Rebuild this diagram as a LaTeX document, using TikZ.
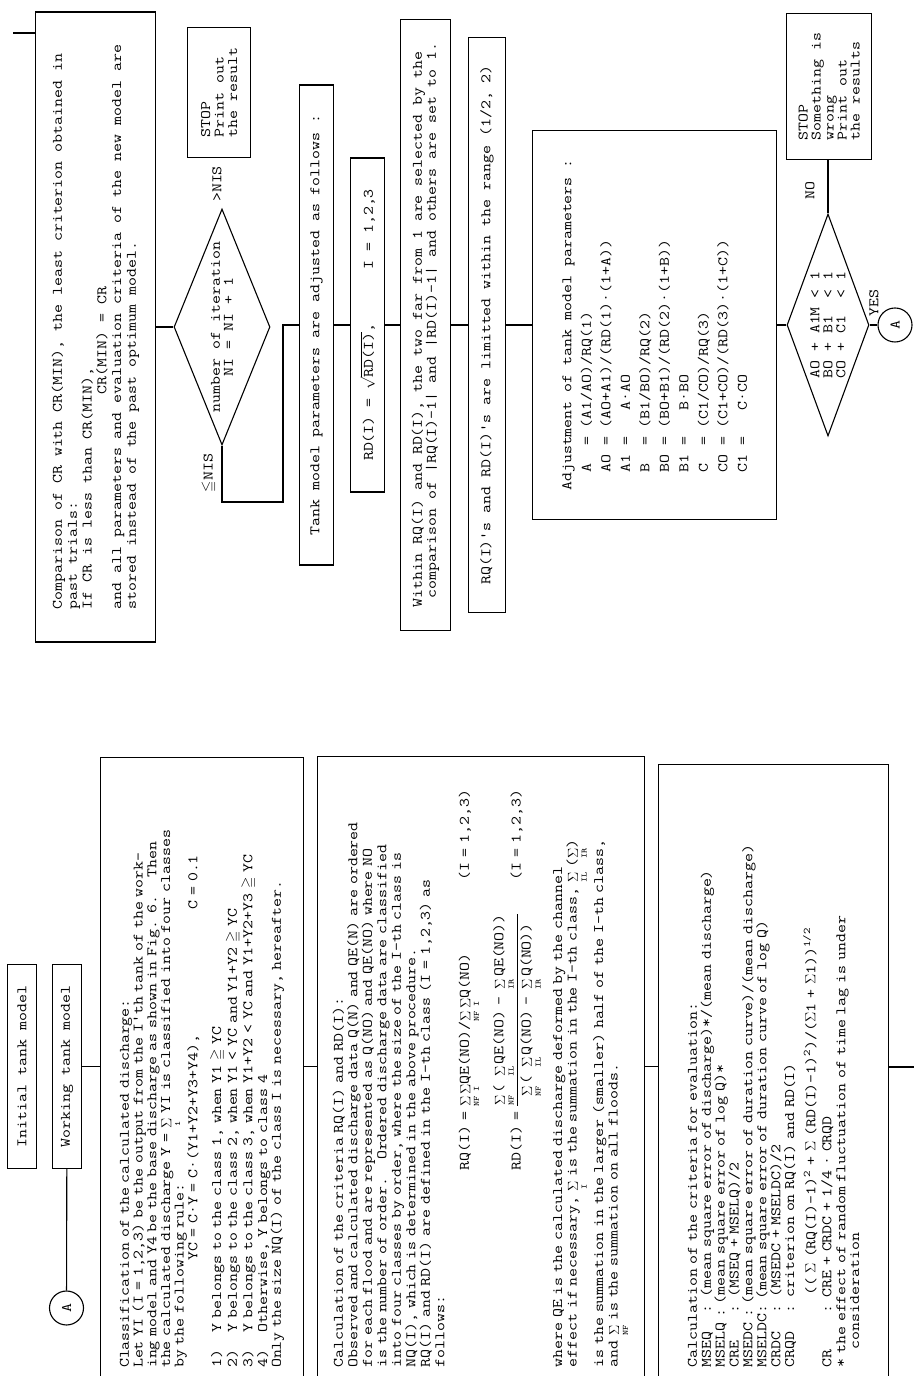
\documentclass[tikz,border=0pt]{standalone}
\usepackage{amsmath}
\usepackage{amssymb}
\usepackage{fontspec}
\setmonofont{Latin Modern Mono}[FakeStretch=1.2]
\usetikzlibrary{shapes.geometric}
\usetikzlibrary{positioning}

\newcommand\tw[1]{\ttfamily\fontsize{14.5}{#1}\selectfont}
\newcommand\tsp[1]{\hspace*{#1\fontcharwd\font`0}}
\newcommand\lbl[1]{\mbox{\ttfamily\fontsize{8}{8}\selectfont #1}}
\newcommand\sumx[1]{\mathop{\Sigma}\limits_{\lbl{#1}}}
\newcommand\sg{$\Sigma$}

\tikzset{
  panel/.style={draw, line width=1.1pt, rectangle, align=left, inner ysep=0pt},
  conn/.style={draw, circle, line width=1.1pt, minimum size=34pt, inner sep=0pt},
  decide/.style={draw, diamond, line width=1.1pt, inner sep=0pt},
  wire/.style={line width=1.1pt},
}

\begin{document}
\begin{tikzpicture}[x=1pt, y=1pt, every node/.style={font=\tw{14}}]
  \useasboundingbox (0,0) rectangle (914,1376);
  \begin{scope}[rotate=90, transform shape]
      % left half of the page
      \node [panel, anchor=north west, minimum width=204, minimum height=29, align=center] (init) at (207,-7) {Initial tank model};
      \node [panel, anchor=north west, minimum width=204, minimum height=29, align=center] (work) at (207,-52) {Working tank model};
      \node [conn] (a1) at (68,-66.5) {A};
      \draw [wire] (a1) -- (work);

      \node [panel, anchor=north west, text width=600, inner xsep=10.5, minimum height=203, font=\tw{13.7}] (cls) at (-3,-100) {%
Classification of the calculated discharge:\\
Let YI (I = 1,2,3) be the output from the I'th tank of the work-\\
ing model and Y4 be the base discharge as shown in Fig. 6.\tsp{2}Then\\
the calculated discharge Y = $\smash[b]{\sumx{1}}$ YI is classified into four classes\\
by the following rule:\\
\tsp{12}YC = C·Y = C·(Y1+Y2+Y3+Y4),\tsp{14}C = 0.1\\[10pt]
1)\tsp{2}Y belongs to the class 1, when Y1 $\geqq$ YC\\
2)\tsp{2}Y belongs to the class 2, when Y1 < YC and Y1+Y2 $\geqq$ YC\\
3)\tsp{2}Y belongs to the class 3, when Y1+Y2 < YC and Y1+Y2+Y3 $\geqq$ YC\\
4)\tsp{2}Otherwise, Y belongs to class 4\\
Only the size NQ(I) of the class I is necessary, hereafter.};

      \node [panel, anchor=north west, text width=600, inner xsep=11, minimum height=327, font=\tw{14.5}] (calc) at (-3,-317) {%
Calculation of the criteria RQ(I) and RD(I):\\
Observed and calculated discharge data Q(N) and QE(N) are ordered\\
for each flood and are represented as Q(NO) and QE(NO) where NO\\
is the number of order.\tsp{2}Ordered discharge data are classified\\
into four classes by order, where the size of the I-th class is\\
NQ(I), which is determined in the above procedure.\\
RQ(I) and RD(I) are defined in the I-th class (I = 1,2,3) as\\
follows:\\[10pt]
\tsp{22}\makebox[290pt][l]{RQ(I) = $\sumx{NF}\sumx{I}$QE(NO)/$\sumx{NF}\sumx{I}$Q(NO)}(I = 1,2,3)\\[12pt]
\tsp{22}\makebox[290pt][l]{RD(I) = $\dfrac{\sumx{NF}\mbox{( }\sumx{IL}\mbox{QE(NO) - }\sumx{IR}\mbox{QE(NO))}}{\sumx{NF}\mbox{( }\sumx{IL}\mbox{Q(NO) - }\sumx{IR}\mbox{Q(NO))}}$}(I = 1,2,3)\\[10pt]
where QE is the calculated discharge deformed by the channel\\
effect if necessary, $\sumx{I}$ is the summation in the I-th class, $\sumx{IL}$ ($\sumx{IR}$)\\[4pt]
is the summation in the larger (smaller) half of the I-th class,\\
and $\sumx{NF}$ is the summation on all floods.};

      \node [panel, anchor=north west, text width=592, inner xsep=11, minimum height=230, font=\tw{13.9}] (crit) at (-3,-658) {%
Calculation of the criteria for evaluation:\\
MSEQ\tsp{2}: (mean square error of discharge)*/(mean discharge)\\
MSELQ : (mean square error of log Q)*\\
CRE\tsp{3}: (MSEQ + MSELQ)/2\\
MSEDC : (mean square error of duration curve)/(mean discharge)\\
MSELDC: (mean square error of duration curve of log Q)\\
CRDC\tsp{2}: (MSEDC + MSELDC)/2\\
CRQD\tsp{2}: criterion on RQ(I) and RD(I)\\[6pt]
\tsp{8}(( \sg{} (RQ(I)-1)\textsuperscript{2} + \sg{} (RD(I)-1)\textsuperscript{2})/(\sg1 + \sg1))\textsuperscript{1/2}\\[2pt]
CR\tsp{4}: CRE + CRDC + 1/4 · CRQD\\
{}* the effect of random fluctuation of time lag is under\\
\tsp{2}consideration};

      \coordinate (out) at (309,-914);
      \draw [wire] (work.south) -- (work.south |- cls.north);
      \draw [wire] (cls.south -| work) -- (calc.north -| work);
      \draw [wire] (calc.south -| work) -- (crit.north -| work);
      \draw [wire] (crit.south -| out) -- (out);

      % right half of the page
      \coordinate (in) at (1343,-13);
      \node [panel, anchor=north, minimum width=630, minimum height=120, font=\tw{14.8}] (cmp) at (1049,-35) {%
Comparison of CR with CR(MIN), the least criterion obtained in\\
past trials:\\
If CR is less than CR(MIN),\\
\tsp{24}CR(MIN) = CR\\
and all parameters and evaluation criteria of the new model are\\
stored instead of the past optimum model.};
      \draw [wire] (in) -- (in |- cmp.north);

      \node [decide, minimum width=236, minimum height=96] (dia) at (1049,-222) {};
      \node [align=center, inner sep=0pt, font=\tw{13}] (dia-t) at (dia) {number of iteration\\NI = NI + 1};
      \draw [wire] (cmp) -- (dia);

      \node [panel, anchor=north west, minimum width=130, minimum height=63, font=\tw{13.5}] (stop1) at (1218,-187) {STOP\\Print out\\the result};
      \node [inner sep=1pt] (gt) at (1192,-217) {>NIS};
      \node [inner sep=1pt] (le) at (903,-209) {$\leqq$NIS};

      \node [panel, anchor=north, minimum width=480, minimum height=34] (tank) at (1051,-299) {Tank model parameters are adjusted as follows :};
      \draw [wire] (dia.west) -| (874,-283) -| (tank.north);

      \node [panel, anchor=north, minimum width=334, minimum height=34] (rd) at (1051,-350) {RD(I) = $\sqrt{\mbox{RD(I)}}$,\tsp{6}I = 1,2,3};
      \draw [wire] (tank) -- (rd);

      \node [panel, anchor=north, minimum width=611, minimum height=50, font=\tw{14}] (win) at (1051,-400) {%
Within RQ(I) and RD(I), the two far from 1 are selected by the\\
\tsp{1}comparison of |RQ(I)-1| and |RD(I)-1| and others are set to 1.};
      \draw [wire] (rd) -- (win);

      \node [panel, anchor=north, minimum width=575, minimum height=37] (lim) at (1051,-468) {RQ(I)'s and RD(I)'s are limitted within the range (1/2, 2)};
      \draw [wire] (win) -- (lim);

      \node [panel, anchor=north, minimum width=389, minimum height=244, font=\tw{19.5}] (adj) at (1051,-532) {%
Adjustment of tank model parameters :\\
\tsp{2}A\tsp{2}= (A1/AO)/RQ(1)\\
\tsp{2}AO = (AO+A1)/(RD(1)·(1+A))\\
\tsp{2}A1 =\tsp{3}A·AO\\
\tsp{2}B\tsp{2}= (B1/BO)/RQ(2)\\
\tsp{2}BO = (BO+B1)/(RD(2)·(1+B))\\
\tsp{2}B1 =\tsp{3}B·BO\\
\tsp{2}C\tsp{2}= (C1/CO)/RQ(3)\\
\tsp{2}CO = (C1+CO)/(RD(3)·(1+C))\\
\tsp{2}C1 =\tsp{3}C·CO};
      \draw [wire] (lim) -- (adj);

      \node [decide, minimum width=222, minimum height=82] (dia2) at (1051,-828) {};
      \node [align=left, inner sep=0pt, font=\tw{13}] (dia2-t) at (dia2) {AO + A1M < 1\\BO + B1\tsp{2}< 1\\CO + C1\tsp{2}< 1};
      \draw [wire] (adj) -- (dia2);

      \node [panel, anchor=north west, minimum width=146, minimum height=85, font=\tw{13}] (stop2) at (1216,-786) {STOP\\Something is\\wrong\\Print out\\the results};
      \draw [wire] (dia2.east) -- (stop2.west |- dia2.east);
      \node [inner sep=1pt] (no) at (1185,-810) {NO};

      \node [conn] (a2) at (1051,-895) {A};
      \draw [wire] (dia2) -- (a2);
      \node [inner sep=1pt] (yes) at (1073,-874) {YES};
  \end{scope}
\end{tikzpicture}
\end{document}
